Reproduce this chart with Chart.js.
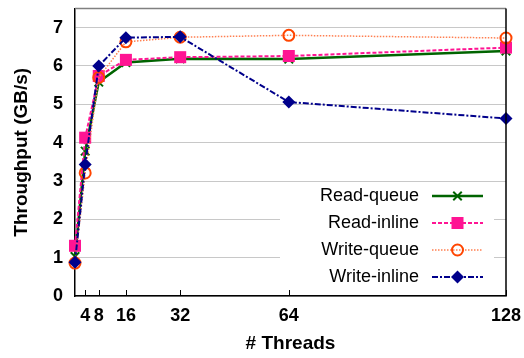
<!DOCTYPE html>
<html>
<head>
<meta charset="utf-8">
<style>
* { margin: 0; padding: 0; }
body { background: #fff; }
.chartBox { width: 524px; height: 358px; }
</style>
</head>
<body>
<div class="chartBox">
  <canvas id="myChart" width="524" height="358"></canvas>
</div>
<script src="https://cdn.jsdelivr.net/npm/chart.js"></script>
<script>
// setup
const threads = [1, 4, 8, 16, 32, 64, 128];
const xTicks = [4, 8, 16, 32, 64, 128];
const yTicks = [0, 1, 2, 3, 4, 5, 6, 7];
const readQueue = [1.03, 3.78, 5.58, 6.09, 6.19, 6.18, 6.39];
const readInline = [1.31, 4.13, 5.74, 6.16, 6.23, 6.26, 6.48];
const writeQueue = [0.86, 3.21, 5.70, 6.63, 6.75, 6.80, 6.73];
const writeInline = [0.88, 3.43, 6.00, 6.74, 6.76, 5.06, 4.63];

Chart.defaults.font.family = '"Liberation Sans", Arial, sans-serif';
Chart.defaults.color = '#000';

const pts = arr => arr.map((v, i) => ({ x: threads[i], y: v }));

const data = {
  datasets: [{
    label: 'Read-queue',
    data: pts(readQueue),
    borderColor: '#006400',
    borderWidth: 2.5,
    pointStyle: 'crossRot',
    pointRadius: 6,
    pointBorderWidth: 2,
    pointBorderColor: '#006400',
    pointBackgroundColor: '#006400',
    order: 4
  }, {
    label: 'Read-inline',
    data: pts(readInline),
    borderColor: '#ff1493',
    borderWidth: 2,
    borderDash: [4, 2],
    pointStyle: 'rect',
    pointRadius: 8.5,
    pointBorderWidth: 0,
    pointBorderColor: '#ff1493',
    pointBackgroundColor: '#ff1493',
    order: 3
  }, {
    label: 'Write-queue',
    data: pts(writeQueue),
    borderColor: '#ff7f50',
    borderWidth: 1.5,
    borderDash: [1.5, 1.5],
    pointStyle: 'circle',
    pointRadius: 5.5,
    pointBorderWidth: 2,
    pointBorderColor: '#ff4500',
    pointBackgroundColor: 'rgba(0,0,0,0)',
    order: 2
  }, {
    label: 'Write-inline',
    data: pts(writeInline),
    borderColor: '#00008b',
    borderWidth: 2,
    borderDash: [6, 2, 2, 2],
    pointStyle: 'rectRot',
    pointRadius: 6.5,
    pointBorderWidth: 0,
    pointBorderColor: '#00008b',
    pointBackgroundColor: '#00008b',
    order: 1
  }]
};

// top/right frame lines and inward x ticks
const framePlugin = {
  id: 'plotFrame',
  afterDraw(chart) {
    const { ctx, chartArea: a, scales } = chart;
    ctx.save();
    ctx.lineWidth = 1.5;
    ctx.strokeStyle = '#808080';
    ctx.beginPath();
    ctx.moveTo(a.left, a.top);
    ctx.lineTo(a.right, a.top);
    ctx.stroke();
    ctx.strokeStyle = '#000';
    ctx.beginPath();
    ctx.moveTo(a.right, a.top);
    ctx.lineTo(a.right, a.bottom);
    ctx.stroke();
    ctx.lineWidth = 1;
    xTicks.forEach(t => {
      const x = Math.round(scales.x.getPixelForValue(t)) + 0.5;
      ctx.beginPath();
      ctx.moveTo(x, a.bottom);
      ctx.lineTo(x, a.bottom - 6);
      ctx.stroke();
    });
    ctx.restore();
  }
};

// legend in the lower right corner
const keyPlugin = {
  id: 'key',
  afterDatasetsDraw(chart) {
    const { ctx } = chart;
    ctx.save();
    ctx.fillStyle = '#fff';
    ctx.fillRect(280, 184, 214, 110);
    chart.data.datasets.forEach((ds, i) => {
      const y = 196 + i * 27;
      ctx.fillStyle = '#000';
      ctx.font = '18px "Liberation Sans", Arial, sans-serif';
      ctx.textAlign = 'right';
      ctx.textBaseline = 'middle';
      ctx.fillText(ds.label, 419, y);
      ctx.strokeStyle = ds.borderColor;
      ctx.lineWidth = ds.borderWidth;
      ctx.setLineDash(ds.borderDash || []);
      ctx.beginPath();
      ctx.moveTo(432, y);
      ctx.lineTo(483, y);
      ctx.stroke();
      ctx.setLineDash([]);
      ctx.strokeStyle = ds.pointBorderColor;
      ctx.fillStyle = ds.pointBackgroundColor;
      ctx.lineWidth = ds.pointBorderWidth;
      Chart.helpers.drawPoint(ctx, {
        pointStyle: ds.pointStyle,
        radius: ds.pointRadius,
        borderWidth: ds.pointBorderWidth,
        rotation: 0
      }, 457.5, y);
    });
    ctx.restore();
  }
};

// config
const config = {
  type: 'line',
  data,
  options: {
    responsive: false,
    animation: false,
    layout: { padding: { top: 5, right: 18, left: 0, bottom: 0 } },
    plugins: { legend: { display: false }, tooltip: { enabled: false } },
    datasets: { line: { clip: false, tension: 0 } },
    scales: {
      x: {
        type: 'linear',
        min: 1,
        max: 128,
        afterBuildTicks: s => { s.ticks = xTicks.map(v => ({ value: v })); },
        afterFit: s => { s.height = 62; s.paddingLeft = 0; s.paddingRight = 0; },
        grid: { display: false, drawTicks: false },
        border: { display: true, color: '#000', width: 1.5 },
        ticks: { font: { size: 18, weight: 'bold' }, padding: 9, maxRotation: 0, autoSkip: false },
        title: { display: true, text: '# Threads', font: { size: 19, weight: 'bold' }, padding: { top: 0, bottom: 3 } }
      },
      y: {
        min: 0,
        max: 7.5,
        afterBuildTicks: s => { s.ticks = yTicks.map(v => ({ value: v })); },
        afterFit: s => { s.width = 75; s.paddingTop = 0; s.paddingBottom = 0; },
        grid: { color: '#c8c8c8', lineWidth: 1, drawTicks: false },
        border: { display: true, color: '#000', width: 1.5 },
        ticks: { font: { size: 18, weight: 'bold' }, padding: 12 },
        title: { display: true, text: 'Throughput (GB/s)', font: { size: 19, weight: 'bold' }, padding: { top: 10, bottom: 0 } }
      }
    }
  },
  plugins: [framePlugin, keyPlugin]
};

// render init block
const myChart = new Chart(document.getElementById('myChart'), config);
</script>
</body>
</html>
